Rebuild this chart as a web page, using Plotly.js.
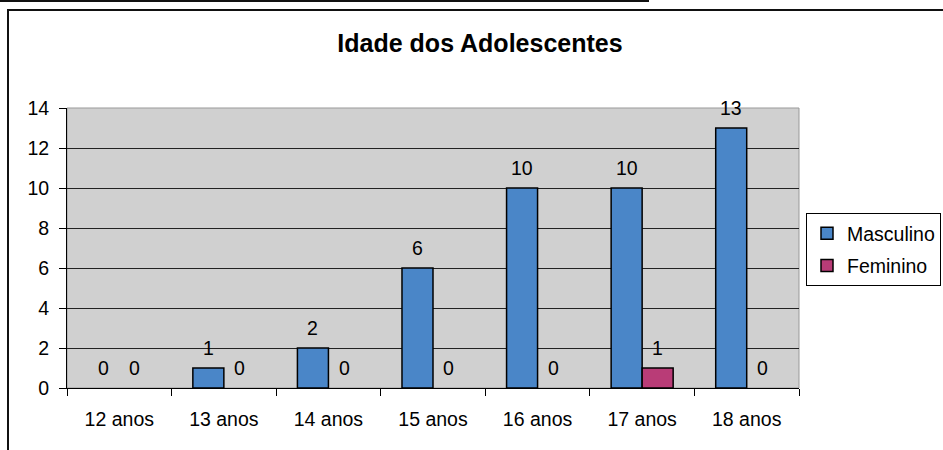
<!DOCTYPE html>
<html>
<head>
<meta charset="utf-8">
<script src="https://cdn.plot.ly/plotly-3.0.1.min.js"></script>
<style>
  html, body { margin: 0; padding: 0; background: #fff; overflow: hidden; }
  #wrap { position: relative; width: 943px; height: 450px; }
  #chart { position: absolute; left: 0; top: 0; width: 943px; height: 450px; }
  .ln { position: absolute; background: #111; pointer-events: none; }
</style>
</head>
<body>
<div id="wrap">
  <div id="chart"></div>
  <div class="ln" style="left:0;top:0;width:649px;height:2px;"></div>
  <div class="ln" style="left:7px;top:9px;width:936px;height:2px;"></div>
  <div class="ln" style="left:7px;top:9px;width:2px;height:441px;"></div>
</div>
<script>
const categories = ["12 anos", "13 anos", "14 anos", "15 anos", "16 anos", "17 anos", "18 anos"];
const masculino = [0, 1, 2, 6, 10, 10, 13];
const feminino = [0, 0, 0, 0, 0, 1, 0];
const seriesNames = ["Masculino", "Feminino"];
const seriesColors = ["#4a86c8", "#b93c77"];
const chartTitle = "Idade dos Adolescentes";

const FONT = "Liberation Sans, Arial, sans-serif";
const seriesValues = [masculino, feminino];

const traces = seriesValues.map((vals, i) => ({
  type: "bar",
  name: seriesNames[i],
  x: categories,
  // zero-height bars are not drawn (no outline at the base)
  y: vals.map(v => (v === 0 ? null : v)),
  legendgroup: "g" + i,
  marker: { color: seriesColors[i], line: { color: "#000", width: 1.5 } },
  hoverinfo: "x+y+name"
}));

const annotations = [];
seriesValues.forEach((vals, i) => {
  vals.forEach((v, j) => {
    annotations.push({
      x: categories[j], y: v, xref: "x", yref: "y",
      text: String(v), showarrow: false,
      xshift: (i === 0 ? -1 : 1) * 15.6, yshift: 20,
      xanchor: "center", yanchor: "middle",
      font: { family: FONT, size: 19.5, color: "#000" }
    });
  });
});

const layout = {
  width: 943, height: 450,
  margin: { l: 67, r: 144, t: 108, b: 62, pad: 0, autoexpand: false },
  paper_bgcolor: "rgba(0,0,0,0)",
  plot_bgcolor: "#d0d0d0",
  font: { family: FONT, size: 19.5, color: "#000" },
  title: {
    text: "<b>" + chartTitle + "</b>",
    font: { family: FONT, size: 25, color: "#000" },
    xref: "container", yref: "container",
    x: 0.509, xanchor: "center",
    y: 1 - 43 / 450, yanchor: "middle"
  },
  barmode: "group",
  bargap: 0.407,
  bargroupgap: 0,
  showlegend: true,
  legend: {
    x: (806 - 67) / 732, xanchor: "left",
    y: (388 - 213) / 280, yanchor: "top",
    bordercolor: "#000", borderwidth: 1,
    bgcolor: "#fff",
    font: { family: FONT, size: 19.5, color: "#000" },
    traceorder: "grouped",
    tracegroupgap: 4
  },
  xaxis: {
    type: "category",
    tickson: "boundaries",
    ticks: "outside", ticklen: 7, tickcolor: "#000", tickwidth: 1,
    showline: true, linecolor: "#000", linewidth: 1,
    showgrid: false, zeroline: false,
    tickfont: { family: FONT, size: 19.5, color: "#000" },
    ticklabelstandoff: 14,
    fixedrange: true
  },
  yaxis: {
    range: [0, 14], dtick: 2, tick0: 0,
    ticks: "outside", ticklen: 7, tickcolor: "#000", tickwidth: 1,
    showline: true, linecolor: "#000", linewidth: 1,
    showgrid: true, gridcolor: "#222", gridwidth: 1,
    zeroline: false,
    tickfont: { family: FONT, size: 19.5, color: "#000" },
    ticklabelstandoff: 6,
    fixedrange: true
  },
  shapes: [{
    type: "rect", xref: "paper", yref: "paper",
    x0: 0, x1: 1, y0: 0, y1: 1,
    line: { color: "#999", width: 1 },
    layer: "below"
  }],
  annotations: annotations
};

Plotly.newPlot("chart", traces, layout, { displayModeBar: false, staticPlot: true });
</script>
</body>
</html>
